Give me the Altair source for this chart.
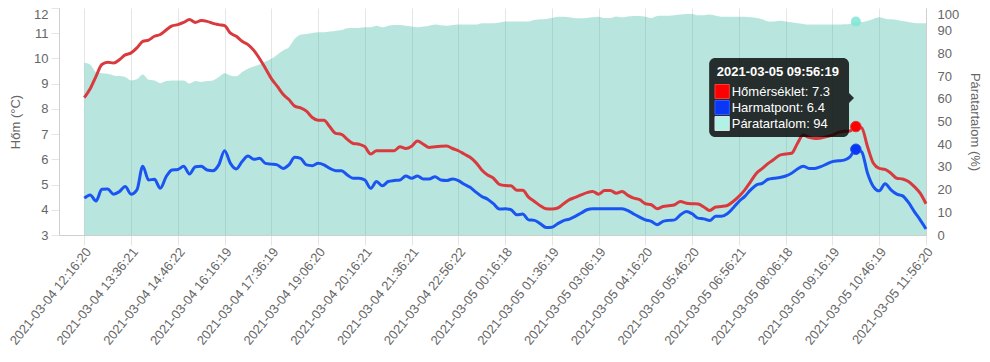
import altair as alt
import pandas as pd

# ---------------- data ----------------
TICK_LABELS = [
    "2021-03-04 12:16:20", "2021-03-04 13:36:21", "2021-03-04 14:46:22",
    "2021-03-04 16:16:19", "2021-03-04 17:36:19", "2021-03-04 19:06:20",
    "2021-03-04 20:16:21", "2021-03-04 21:36:21", "2021-03-04 22:56:22",
    "2021-03-05 00:16:18", "2021-03-05 01:36:19", "2021-03-05 03:06:19",
    "2021-03-05 04:16:20", "2021-03-05 05:46:20", "2021-03-05 06:56:21",
    "2021-03-05 08:06:18", "2021-03-05 09:16:19", "2021-03-05 10:46:19",
    "2021-03-05 11:56:20",
]
TICK_STEP = 8  # one labelled tick every 8 samples

TEMP = [
    8.45, 8.8, 9.29, 9.76, 9.85, 9.82, 9.95, 10.14, 10.22, 10.42,
    10.68, 10.73, 10.88, 10.95, 11.13, 11.29, 11.34, 11.43, 11.54, 11.43,
    11.5, 11.47, 11.39, 11.34, 11.3, 11.0, 10.88, 10.68, 10.55, 10.32,
    9.99, 9.6, 9.2, 8.9, 8.58, 8.37, 8.11, 8.04, 7.91, 7.66,
    7.55, 7.55, 7.29, 7.03, 6.99, 6.79, 6.63, 6.6, 6.5, 6.21,
    6.34, 6.34, 6.34, 6.34, 6.5, 6.43, 6.52, 6.73, 6.6, 6.47,
    6.5, 6.52, 6.53, 6.43, 6.34, 6.21, 6.08, 5.87, 5.58, 5.38,
    5.25, 5.01, 4.96, 4.95, 4.77, 4.77, 4.5, 4.33, 4.16, 4.04,
    4.03, 4.07, 4.24, 4.4, 4.49, 4.59, 4.68, 4.72, 4.62, 4.76,
    4.76, 4.66, 4.72, 4.57, 4.46, 4.4, 4.24, 4.2, 4.04, 4.13,
    4.16, 4.2, 4.33, 4.26, 4.24, 4.23, 4.11, 3.97, 4.11, 4.13,
    4.17, 4.33, 4.53, 4.79, 5.12, 5.45, 5.64, 5.84, 6.0, 6.17,
    6.21, 6.24, 6.63, 6.96, 6.87, 6.83, 6.85, 6.9, 6.96, 7.07,
    7.11, 7.12, 7.3, 7.25, 6.5, 5.84, 5.64, 5.6, 5.45, 5.25,
    5.22, 5.12, 4.92, 4.66, 4.24,
]
DEW = [
    4.46, 4.59, 4.35, 4.81, 4.82, 4.62, 4.72, 4.92, 4.62, 4.79,
    5.73, 5.18, 5.21, 4.85, 5.31, 5.58, 5.6, 5.73, 5.42, 5.71,
    5.73, 5.58, 5.55, 5.78, 6.34, 5.84, 5.62, 5.91, 6.13, 6.0,
    6.04, 5.84, 5.81, 5.78, 5.64, 5.78, 6.08, 6.04, 5.78, 5.75,
    5.84, 5.78, 5.64, 5.55, 5.55, 5.38, 5.25, 5.25, 5.18, 4.85,
    5.12, 4.95, 5.12, 5.16, 5.18, 5.34, 5.25, 5.34, 5.22, 5.22,
    5.31, 5.18, 5.16, 5.22, 5.16, 5.01, 4.89, 4.7, 4.53, 4.42,
    4.24, 4.03, 4.04, 4.0, 3.8, 3.83, 3.6, 3.58, 3.45, 3.3,
    3.31, 3.45, 3.57, 3.63, 3.74, 3.87, 4.0, 4.04, 4.04, 4.04,
    4.04, 4.04, 4.04, 3.97, 3.83, 3.71, 3.6, 3.54, 3.41, 3.54,
    3.58, 3.6, 3.8, 3.93, 3.84, 3.67, 3.64, 3.57, 3.74, 3.74,
    3.84, 4.07, 4.33, 4.53, 4.79, 4.99, 5.05, 5.21, 5.25, 5.28,
    5.34, 5.45, 5.62, 5.73, 5.64, 5.64, 5.71, 5.81, 5.91, 5.94,
    5.97, 6.1, 6.4, 6.3, 5.45, 4.92, 4.75, 5.03, 4.79, 4.62,
    4.55, 4.29, 3.93, 3.6, 3.24,
]
HUM = [
    75.9, 75.1, 71.8, 71.3, 71.0, 70.3, 70.0, 69.6, 68.1, 68.6,
    70.7, 68.4, 68.1, 66.9, 67.8, 68.1, 68.1, 68.1, 66.7, 67.8,
    67.4, 67.8, 68.1, 69.6, 71.3, 70.3, 69.9, 71.8, 73.2, 74.2,
    75.1, 76.4, 77.6, 79.4, 81.3, 82.7, 86.4, 88.2, 88.6, 89.0,
    89.3, 89.3, 89.6, 90.0, 90.3, 91.1, 91.2, 91.2, 91.5, 91.5,
    92.2, 91.5, 92.2, 92.5, 92.5, 92.2, 91.9, 91.5, 91.8, 92.2,
    92.7, 92.4, 92.2, 92.5, 92.7, 92.7, 92.7, 92.7, 93.3, 93.3,
    93.3, 93.6, 94.1, 94.1, 94.1, 94.1, 94.1, 94.7, 95.0, 95.2,
    95.6, 96.2, 96.2, 95.9, 95.5, 95.5, 95.6, 95.9, 96.2, 95.6,
    95.6, 96.3, 95.9, 96.3, 96.5, 96.5, 96.2, 95.6, 96.5, 96.6,
    96.6, 96.8, 97.1, 97.4, 97.4, 96.8, 96.8, 97.1, 96.6, 96.2,
    96.2, 96.2, 96.2, 96.2, 95.9, 95.6, 95.0, 94.1, 94.1, 94.4,
    94.1, 93.7, 93.3, 93.0, 92.7, 92.7, 92.7, 92.7, 92.7, 92.7,
    92.8, 93.0, 94.0, 93.8, 94.4, 95.2, 95.9, 95.3, 95.0, 94.7,
    94.3, 93.8, 93.4, 93.3, 93.3,
]
HOVER_INDEX = 132
HOVER_LABEL = "2021-03-05 09:56:19"
SERIES_NAMES = ["Hőmérséklet", "Harmatpont", "Páratartalom"]

# ---------------- style / layout ----------------
FONT = "Liberation Sans, Arial, Helvetica, sans-serif"
GRID = "rgba(0,0,0,0.1)"
BORDER = "#cfcfcf"
LABEL = "#666666"
RED_LINE, RED_FILL = "#d93a3e", "#ff0000"
BLUE_LINE, BLUE_FILL = "#1a55f2", "#0a36f5"
TEAL_AREA, TEAL_DOT, TEAL_BOX = "#34b8a4", "#7fe6d6", "#b2f2e6"

# tooltip annotation, in data coordinates (sample index, degrees C)
TIP_BOX = dict(idx=106.9, idx2=130.83, temp=10.02, temp2=6.885)
TIP_TITLE = dict(idx=108.2, temp=9.30)
TIP_ROW_IDX = 110.76
TIP_ROW_TEMP = [8.511, 7.876, 7.254]
TIP_SWATCH = dict(idx=107.9, idx2=110.35)
TIP_SWATCH_TEMP = [(8.967, 8.412), (8.332, 7.777), (7.698, 7.143)]
TIP_CARET = dict(idx=130.83, temp=8.43)

n = len(TEMP)
df = pd.DataFrame({"idx": list(range(n)), "temp": TEMP, "dew": DEW, "hum": HUM})

labels_js = "[" + ",".join("'" + s + "'" for s in TICK_LABELS) + "]"
x_scale = alt.Scale(domain=[-4.33, n - 1], nice=False, zero=False)
x_axis = alt.Axis(
    values=list(range(0, n, TICK_STEP)),
    labelExpr=labels_js + "[round(datum.value/" + str(TICK_STEP) + ")]",
    labelAngle=-51, labelAlign="right", labelBaseline="middle",
    labelOffset=4, labelPadding=4, labelFlush=False, labelOverlap=False,
    labelColor=LABEL, labelFontSize=13, labelFont=FONT,
    tickSize=10, tickColor=GRID, gridColor=GRID, domainColor=BORDER,
    title=None,
)
X = alt.X("idx:Q", scale=x_scale, axis=x_axis)

t_scale = alt.Scale(domain=[3, 12], nice=False, zero=False)
t_axis = alt.Axis(
    orient="left", values=list(range(3, 13)), title="Hőm (°C)",
    titleColor=LABEL, titleFontSize=13, titleFontWeight="normal", titleFont=FONT,
    titlePadding=11,
    labelColor=LABEL, labelFontSize=13, labelFont=FONT, labelPadding=3,
    labelOffset={"condition": {"test": "datum.value == 12", "value": 6.5}, "value": 0},
    tickSize=8, tickColor=GRID, gridColor=GRID, domainColor=BORDER,
)
h_scale = alt.Scale(domain=[0, 100], nice=False, zero=True)
h_axis = alt.Axis(
    orient="right", values=list(range(0, 101, 10)), title="Páratartalom (%)",
    titleColor=LABEL, titleFontSize=13, titleFontWeight="normal", titleFont=FONT,
    titlePadding=9,
    labelColor=LABEL, labelFontSize=13, labelFont=FONT, labelPadding=11,
    labelOffset={"condition": {"test": "datum.value == 100", "value": 6.5}, "value": 0},
    ticks=False, grid=False, domainColor=BORDER,
)


def TY(field):
    return alt.Y(field, type="quantitative", scale=t_scale, axis=t_axis)


def HY(field):
    return alt.Y(field, type="quantitative", scale=h_scale, axis=h_axis)


base = alt.Chart(df)
hover = base.transform_filter(f"datum.idx == {HOVER_INDEX}")

area = base.mark_area(color=TEAL_AREA, opacity=0.35, interpolate="monotone").encode(
    x=X, y=HY("hum")
)
hum_dot = hover.mark_circle(color=TEAL_DOT, opacity=0.85, size=100).encode(
    x=X, y=HY("hum")
)

temp_line = base.mark_line(color=RED_LINE, strokeWidth=3, interpolate="monotone").encode(
    x=X, y=TY("temp")
)
dew_line = base.mark_line(color=BLUE_LINE, strokeWidth=3, interpolate="monotone").encode(
    x=X, y=TY("dew")
)
temp_dot = hover.mark_point(filled=True, fill=RED_FILL, stroke=RED_LINE, strokeWidth=1,
                            opacity=1, size=110).encode(x=X, y=TY("temp"))
dew_dot = hover.mark_point(filled=True, fill=BLUE_FILL, stroke=BLUE_LINE, strokeWidth=1,
                           opacity=1, size=110).encode(x=X, y=TY("dew"))

# tooltip
tip_box = alt.Chart(pd.DataFrame([TIP_BOX])).mark_rect(
    color="black", opacity=0.8, cornerRadius=6
).encode(x=X, x2="idx2:Q", y=TY("temp"), y2="temp2:Q")
tip_caret = alt.Chart(pd.DataFrame([TIP_CARET])).mark_point(
    shape="M0,-1L1,0L0,1Z", filled=True, color="black", opacity=0.8, size=100
).encode(x=X, y=TY("temp"))

tip_title = alt.Chart(pd.DataFrame([dict(TIP_TITLE, text=HOVER_LABEL)])).mark_text(
    align="left", baseline="alphabetic", color="white", font=FONT,
    fontSize=13, fontWeight="bold"
).encode(x=X, y=TY("temp"), text="text:N")

hv = [TEMP[HOVER_INDEX], DEW[HOVER_INDEX], HUM[HOVER_INDEX]]
rows = pd.DataFrame({
    "idx": [TIP_ROW_IDX] * 3,
    "temp": TIP_ROW_TEMP,
    "text": [f"{name}: {v:g}" for name, v in zip(SERIES_NAMES, hv)],
})
tip_rows = alt.Chart(rows).mark_text(
    align="left", baseline="alphabetic", color="white", font=FONT, fontSize=13
).encode(x=X, y=TY("temp"), text="text:N")

sw = pd.DataFrame({
    "idx": [TIP_SWATCH["idx"]] * 3,
    "idx2": [TIP_SWATCH["idx2"]] * 3,
    "temp": [a for a, b in TIP_SWATCH_TEMP],
    "temp2": [b for a, b in TIP_SWATCH_TEMP],
    "series": SERIES_NAMES,
})
tip_swatch = alt.Chart(sw).mark_rect(strokeWidth=1).encode(
    x=X, x2="idx2:Q", y=TY("temp"), y2="temp2:Q",
    fill=alt.Fill("series:N", scale=alt.Scale(domain=SERIES_NAMES,
                                              range=[RED_FILL, BLUE_FILL, TEAL_BOX]),
                  legend=None),
    stroke=alt.Stroke("series:N", scale=alt.Scale(domain=SERIES_NAMES,
                                                  range=["#f04040", "#3060ff", "#e0e0e0"]),
                      legend=None),
)

right_group = alt.layer(area, hum_dot)
left_group = alt.layer(temp_line, dew_line, temp_dot, dew_dot,
                       tip_box, tip_caret, tip_title, tip_rows, tip_swatch)

chart = alt.layer(right_group, left_group).resolve_scale(
    y="independent", fill="independent", stroke="independent"
).properties(
    width=867, height=227,
    autosize=alt.AutoSizeParams(type="none"),
    padding={"left": 51, "top": 0, "right": 56, "bottom": 118},
    background="white",
).configure_view(stroke=None)

chart.save("out.html", embed_options={"renderer": "svg", "actions": False})
